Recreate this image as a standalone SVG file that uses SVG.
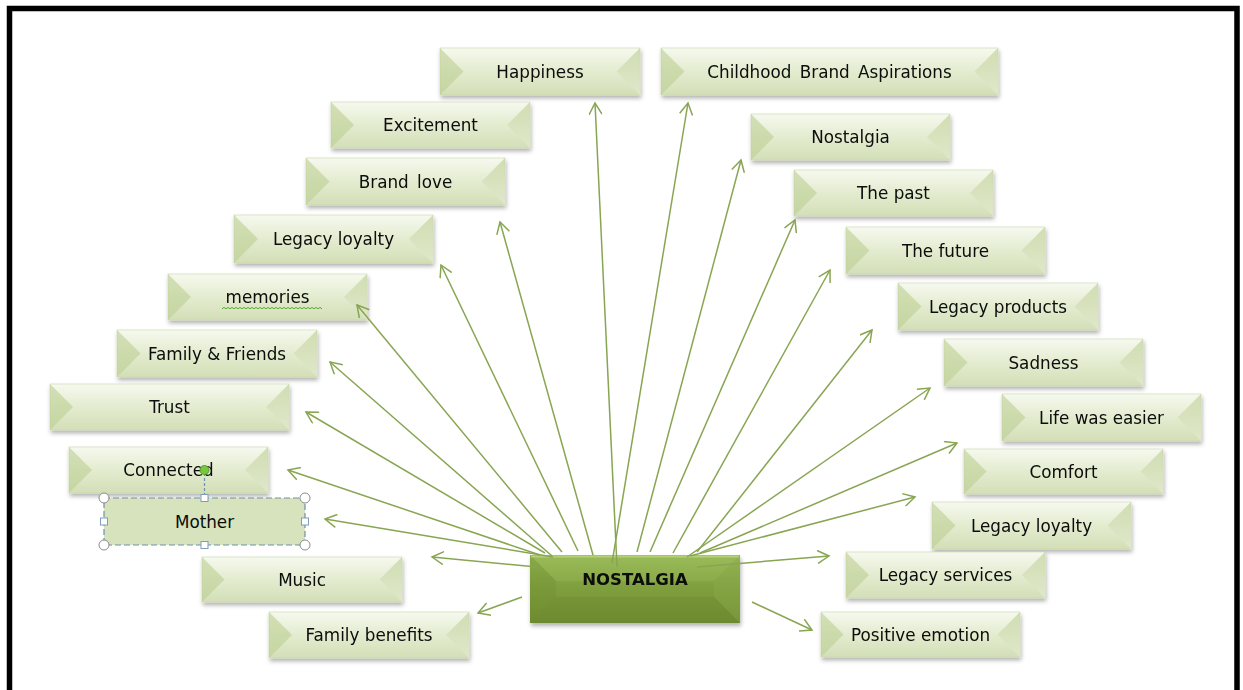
<svg xmlns="http://www.w3.org/2000/svg" width="1243" height="690" viewBox="0 0 1243 690">
  <defs>
    <linearGradient id="gFace" x1="0" y1="0" x2="0" y2="1">
      <stop offset="0" stop-color="#f6f9ef"/>
      <stop offset="0.45" stop-color="#e5edd2"/>
      <stop offset="1" stop-color="#d3dfb7"/>
    </linearGradient>
    <linearGradient id="gRight" x1="0" y1="0" x2="0" y2="1">
      <stop offset="0" stop-color="#c7d6a3"/>
      <stop offset="1" stop-color="#e2ead0"/>
    </linearGradient>
    <linearGradient id="gCore" x1="0" y1="0" x2="0" y2="1">
      <stop offset="0" stop-color="#97b853"/>
      <stop offset="0.45" stop-color="#80a03f"/>
      <stop offset="1" stop-color="#6f8d32"/>
    </linearGradient>
    <filter id="shadow" x="-10%" y="-20%" width="120%" height="160%">
      <feDropShadow dx="1" dy="3" stdDeviation="2" flood-color="#000" flood-opacity="0.3"/>
    </filter>
    <marker id="arr" markerWidth="14" markerHeight="14" refX="12" refY="7" orient="auto" markerUnits="userSpaceOnUse">
      <path d="M0.5,0.5 L12,7 L0.5,13.5" fill="none" stroke="#88a552" stroke-width="1.5"/>
    </marker>
  </defs>
  <style>
    .node { filter: url(#shadow); }
    .face { fill: url(#gFace); stroke: #c9d6a8; stroke-width: 0.6; }
    .lf { fill: #bccf92; opacity: 0.6; }
    .rf { fill: url(#gRight); opacity: 0.8; }
    .lbl { font-family: "DejaVu Sans", "Liberation Sans", sans-serif; font-size: 16.8px; fill: #0a0a0a; text-anchor: middle; }
    .wide { word-spacing: 3px; }
    .conn line { stroke: #88a552; stroke-width: 1.5; fill: none; marker-end: url(#arr); }
    .hdl { fill: #ffffff; stroke: #7f9cbf; stroke-width: 1; }
    .crn { fill: #ffffff; stroke: #8c8c8c; stroke-width: 1; }
  </style>

  <rect width="1243" height="690" fill="#ffffff"/>
  <!-- page frame -->
  <path d="M9.5,690 V8.5 H1237 V690" fill="none" stroke="#000" stroke-width="5.5"/>

  <g id="nodes">
    <g id="n-happiness" class="node">
      <rect class="face" x="440" y="48" width="200" height="47"/>
      <polygon class="lf" points="440,48 463.5,71.5 440,95"/>
      <polygon class="rf" points="640,48 616.5,71.5 640,95"/>
      <text class="lbl" x="540" y="77.5">Happiness</text>
    </g>
    <g id="n-childhood" class="node">
      <rect class="face" x="661" y="48" width="337" height="47"/>
      <polygon class="lf" points="661,48 684.5,71.5 661,95"/>
      <polygon class="rf" points="998,48 974.5,71.5 998,95"/>
      <text class="lbl wide" x="829.5" y="77.5">Childhood Brand Aspirations</text>
    </g>
    <g id="n-excitement" class="node">
      <rect class="face" x="331" y="102" width="199" height="46"/>
      <polygon class="lf" points="331,102 354,125 331,148"/>
      <polygon class="rf" points="530,102 507,125 530,148"/>
      <text class="lbl" x="430.5" y="131">Excitement</text>
    </g>
    <g id="n-nostalgia" class="node">
      <rect class="face" x="751" y="114" width="199" height="46"/>
      <polygon class="lf" points="751,114 774,137 751,160"/>
      <polygon class="rf" points="950,114 927,137 950,160"/>
      <text class="lbl" x="850.5" y="143">Nostalgia</text>
    </g>
    <g id="n-brandlove" class="node">
      <rect class="face" x="306" y="158" width="199" height="47"/>
      <polygon class="lf" points="306,158 329.5,181.5 306,205"/>
      <polygon class="rf" points="505,158 481.5,181.5 505,205"/>
      <text class="lbl wide" x="405.5" y="187.5">Brand love</text>
    </g>
    <g id="n-thepast" class="node">
      <rect class="face" x="794" y="170" width="199" height="46"/>
      <polygon class="lf" points="794,170 817,193 794,216"/>
      <polygon class="rf" points="993,170 970,193 993,216"/>
      <text class="lbl" x="893.5" y="199">The past</text>
    </g>
    <g id="n-legacyloyalty-l" class="node">
      <rect class="face" x="234" y="215" width="199" height="48"/>
      <polygon class="lf" points="234,215 258,239 234,263"/>
      <polygon class="rf" points="433,215 409,239 433,263"/>
      <text class="lbl" x="333.5" y="245">Legacy loyalty</text>
    </g>
    <g id="n-thefuture" class="node">
      <rect class="face" x="846" y="227" width="199" height="47"/>
      <polygon class="lf" points="846,227 869.5,250.5 846,274"/>
      <polygon class="rf" points="1045,227 1021.5,250.5 1045,274"/>
      <text class="lbl" x="945.5" y="256.5">The future</text>
    </g>
    <g id="n-memories" class="node">
      <rect class="face" x="168" y="274" width="199" height="46"/>
      <polygon class="lf" points="168,274 191,297 168,320"/>
      <polygon class="rf" points="367,274 344,297 367,320"/>
      <text class="lbl" x="267.5" y="303">memories</text>
      <!-- spell-check squiggle -->
      <path d="M222,308.8 l2,-1.4 2,1.4 2,-1.4 2,1.4 2,-1.4 2,1.4 2,-1.4 2,1.4 2,-1.4 2,1.4 2,-1.4 2,1.4 2,-1.4 2,1.4 2,-1.4 2,1.4 2,-1.4 2,1.4 2,-1.4 2,1.4 2,-1.4 2,1.4 2,-1.4 2,1.4 2,-1.4 2,1.4 2,-1.4 2,1.4 2,-1.4 2,1.4 2,-1.4 2,1.4 2,-1.4 2,1.4 2,-1.4 2,1.4 2,-1.4 2,1.4 2,-1.4 2,1.4 2,-1.4 2,1.4 2,-1.4 2,1.4 2,-1.4 2,1.4 2,-1.4 2,1.4 2,-1.4 2,1.4" fill="none" stroke="#5aa83a" stroke-width="1"/>
    </g>
    <g id="n-legacyproducts" class="node">
      <rect class="face" x="898" y="283" width="200" height="47"/>
      <polygon class="lf" points="898,283 921.5,306.5 898,330"/>
      <polygon class="rf" points="1098,283 1074.5,306.5 1098,330"/>
      <text class="lbl" x="998" y="312.5">Legacy products</text>
    </g>
    <g id="n-family-friends" class="node">
      <rect class="face" x="117" y="330" width="200" height="47"/>
      <polygon class="lf" points="117,330 140.5,353.5 117,377"/>
      <polygon class="rf" points="317,330 293.5,353.5 317,377"/>
      <text class="lbl" x="217" y="359.5">Family &amp; Friends</text>
    </g>
    <g id="n-sadness" class="node">
      <rect class="face" x="944" y="339" width="199" height="47"/>
      <polygon class="lf" points="944,339 967.5,362.5 944,386"/>
      <polygon class="rf" points="1143,339 1119.5,362.5 1143,386"/>
      <text class="lbl" x="1043.5" y="368.5">Sadness</text>
    </g>
    <g id="n-trust" class="node">
      <rect class="face" x="50" y="384" width="239" height="46"/>
      <polygon class="lf" points="50,384 73,407 50,430"/>
      <polygon class="rf" points="289,384 266,407 289,430"/>
      <text class="lbl" x="169.5" y="413">Trust</text>
    </g>
    <g id="n-lifewaseasier" class="node">
      <rect class="face" x="1002" y="394" width="199" height="47"/>
      <polygon class="lf" points="1002,394 1025.5,417.5 1002,441"/>
      <polygon class="rf" points="1201,394 1177.5,417.5 1201,441"/>
      <text class="lbl" x="1101.5" y="423.5">Life was easier</text>
    </g>
    <g id="n-connected" class="node">
      <rect class="face" x="69" y="447" width="199" height="46"/>
      <polygon class="lf" points="69,447 92,470 69,493"/>
      <polygon class="rf" points="268,447 245,470 268,493"/>
      <text class="lbl" x="168.5" y="476">Connected</text>
    </g>
    <g id="n-comfort" class="node">
      <rect class="face" x="964" y="449" width="199" height="45"/>
      <polygon class="lf" points="964,449 986.5,471.5 964,494"/>
      <polygon class="rf" points="1163,449 1140.5,471.5 1163,494"/>
      <text class="lbl" x="1063.5" y="477.5">Comfort</text>
    </g>
    <g id="n-legacyloyalty-r" class="node">
      <rect class="face" x="932" y="502" width="199" height="47"/>
      <polygon class="lf" points="932,502 955.5,525.5 932,549"/>
      <polygon class="rf" points="1131,502 1107.5,525.5 1131,549"/>
      <text class="lbl" x="1031.5" y="531.5">Legacy loyalty</text>
    </g>
    <g id="n-music" class="node">
      <rect class="face" x="202" y="557" width="200" height="45"/>
      <polygon class="lf" points="202,557 224.5,579.5 202,602"/>
      <polygon class="rf" points="402,557 379.5,579.5 402,602"/>
      <text class="lbl" x="302" y="585.5">Music</text>
    </g>
    <g id="n-legacyservices" class="node">
      <rect class="face" x="846" y="552" width="199" height="46"/>
      <polygon class="lf" points="846,552 869,575 846,598"/>
      <polygon class="rf" points="1045,552 1022,575 1045,598"/>
      <text class="lbl" x="945.5" y="581">Legacy services</text>
    </g>
    <g id="n-familybenefits" class="node">
      <rect class="face" x="269" y="612" width="200" height="46"/>
      <polygon class="lf" points="269,612 292,635 269,658"/>
      <polygon class="rf" points="469,612 446,635 469,658"/>
      <text class="lbl" x="369" y="641">Family benefits</text>
    </g>
    <g id="n-positiveemotion" class="node">
      <rect class="face" x="821" y="612" width="199" height="45"/>
      <polygon class="lf" points="821,612 843.5,634.5 821,657"/>
      <polygon class="rf" points="1020,612 997.5,634.5 1020,657"/>
      <text class="lbl" x="920.5" y="640.5">Positive emotion</text>
    </g>

    <!-- selected plain box with its edit handles -->
    <g id="n-mother">
      <rect x="104" y="498" width="201" height="47" fill="#d6e3bc"/>
      <rect x="104" y="498" width="201" height="47" fill="none" stroke="#6f8fb0" stroke-width="1.2" stroke-dasharray="6 3"/>
      <text class="lbl" x="204.5" y="527.5">Mother</text>
      <line x1="204.5" y1="473" x2="204.5" y2="494.5" stroke="#6f8fb0" stroke-width="1.2" stroke-dasharray="3 2"/>
      <circle cx="204.5" cy="470" r="4.5" fill="#76c63e" stroke="#5a9f2e" stroke-width="1"/>
      <rect class="hdl" x="201" y="494.5" width="7" height="7"/>
      <rect class="hdl" x="201" y="541.5" width="7" height="7"/>
      <rect class="hdl" x="100.5" y="518" width="7" height="7"/>
      <rect class="hdl" x="301.5" y="518" width="7" height="7"/>
      <circle class="crn" cx="104" cy="498" r="5"/>
      <circle class="crn" cx="305" cy="498" r="5"/>
      <circle class="crn" cx="104" cy="545" r="5"/>
      <circle class="crn" cx="305" cy="545" r="5"/>
    </g>

    <!-- central node -->
    <g id="n-core" class="node">
      <rect x="530" y="555" width="210" height="68" fill="url(#gCore)"/>
      <polygon points="530,555 740,555 714,581 556,581" fill="#a4c266" opacity="0.25"/>
      <polygon points="530,555 556,581 556,597 530,623" fill="#6c8a2f" opacity="0.3"/>
      <polygon points="740,555 714,581 714,597 740,623" fill="#8cab4c" opacity="0.35"/>
      <polygon points="530,623 556,597 714,597 740,623" fill="#67852c" opacity="0.25"/>
      <line x1="531" y1="556.5" x2="739" y2="556.5" stroke="#b3cf78" stroke-width="2"/>
      <text x="635" y="585" font-family="'DejaVu Sans', 'Liberation Sans', sans-serif" font-size="16.5" font-weight="bold" fill="#0a0a0a" text-anchor="middle">NOSTALGIA</text>
    </g>
  </g>

  <g id="connectors" class="conn">
    <line x1="617" y1="567" x2="595" y2="103"/>
    <line x1="612" y1="563" x2="688" y2="103"/>
    <line x1="637" y1="552" x2="741" y2="160"/>
    <line x1="650" y1="552" x2="795" y2="220"/>
    <line x1="673" y1="553" x2="830" y2="270"/>
    <line x1="697" y1="552" x2="872" y2="330"/>
    <line x1="687" y1="557" x2="930" y2="388"/>
    <line x1="700" y1="553" x2="957" y2="443"/>
    <line x1="690" y1="556" x2="915" y2="497"/>
    <line x1="697" y1="567" x2="829" y2="556"/>
    <line x1="752" y1="602" x2="812" y2="630"/>
    <line x1="593" y1="555" x2="500" y2="222"/>
    <line x1="578" y1="551" x2="441" y2="265"/>
    <line x1="562" y1="552" x2="357" y2="305"/>
    <line x1="552" y1="556" x2="330" y2="362"/>
    <line x1="545" y1="553" x2="306" y2="412"/>
    <line x1="540" y1="555" x2="288" y2="470"/>
    <line x1="553" y1="557" x2="325" y2="519"/>
    <line x1="537" y1="567" x2="432" y2="557"/>
    <line x1="522" y1="597" x2="478" y2="613"/>
  </g>
</svg>
